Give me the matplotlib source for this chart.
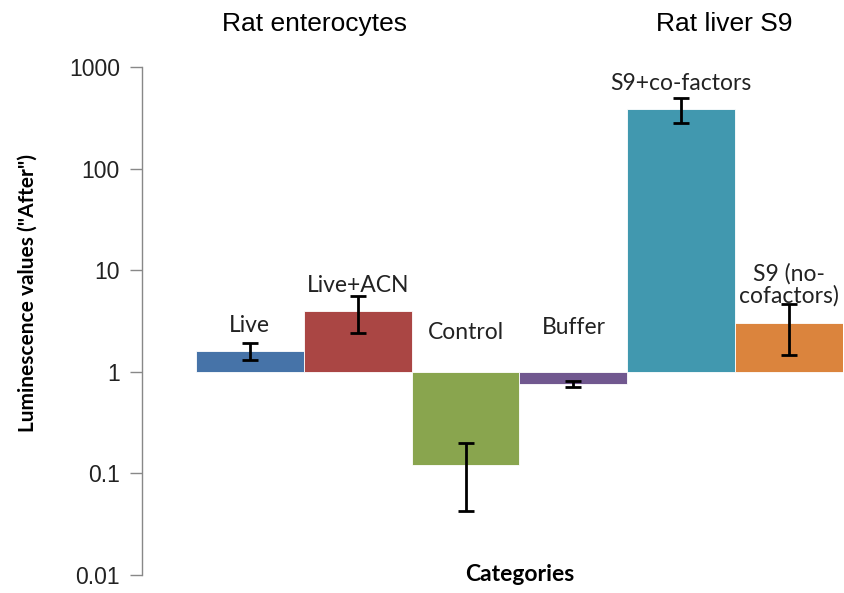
import matplotlib
matplotlib.use("Agg")
import matplotlib.pyplot as plt
import numpy as np

# Data: luminescence ("After") per condition, drawn as bars from a baseline of 1
categories = ["Live", "Live+ACN", "Control", "Buffer", "S9+co-factors", "S9 (no-\ncofactors)"]
values = [1.6, 4.0, 0.12, 0.76, 390.0, 3.05]
errors = [0.3, 1.6, 0.077, 0.055, 110.0, 1.6]
colors = ["#4673A8", "#AA4644", "#89A54E", "#71588F", "#4198AF", "#DB843D"]
label_y = [2.85, 7.0, 2.42, 2.72, 690.0, 7.2]
groups = ["Rat enterocytes", "Rat liver S9"]
group_x = [0.6, 4.4]
yticks = [0.01, 0.1, 1, 10, 100, 1000]
ytick_labels = ["0.01", "0.1", "1", "10", "100", "1000"]

baseline = 1.0
fig = plt.figure(figsize=(8.44, 5.93), dpi=100)
ax = fig.add_axes([142 / 844, 18 / 593, 701 / 844, 508 / 593])

x = np.arange(len(values))
heights = [v - baseline for v in values]
ax.bar(x, heights, bottom=baseline, width=1.0, color=colors, edgecolor="white",
       linewidth=0.6, zorder=2)
ax.errorbar(x, values, yerr=errors, fmt="none", ecolor="black", elinewidth=2.0,
            capsize=5.5, capthick=2.0, zorder=3)

ax.set_yscale("log")
ax.set_ylim(0.01, 1000)
ax.set_xlim(-1.0, 5.5)
ax.set_yticks(yticks)
ax.set_yticklabels(ytick_labels, fontfamily="Liberation Sans", fontsize=16.5, color="#222222")
ax.yaxis.set_minor_locator(matplotlib.ticker.NullLocator())
ax.tick_params(axis="y", direction="out", length=9, width=1, color="#888888", pad=7)
ax.set_xticks([])

for side in ["top", "right", "bottom"]:
    ax.spines[side].set_visible(False)
ax.spines["left"].set_color("#888888")
ax.spines["left"].set_linewidth(1)

# Category labels above/below each bar
for xi, name, ly in zip(x, categories, label_y):
    ax.text(xi, ly, name, ha="center", va="center", fontfamily="Lato",
            fontsize=16.5, color="#222222", linespacing=1.05, zorder=4)

# Group headers above the plot
for gx, g in zip(group_x, groups):
    ax.text(gx, 1.085, g, transform=ax.get_xaxis_transform(), ha="center", va="center",
            fontfamily="Liberation Sans", fontsize=19, color="black", clip_on=False)

ax.set_ylabel('Luminescence values ("After")', fontfamily="Lato", fontweight="bold",
              fontsize=15, color="black")
ax.yaxis.set_label_coords(-0.149, 0.555)
ax.text(2.5, 0.0102, "Categories", ha="center", va="center", fontfamily="Lato",
        fontweight="bold", fontsize=16.5, color="black", clip_on=False)

fig.savefig("out.png", dpi=100)
